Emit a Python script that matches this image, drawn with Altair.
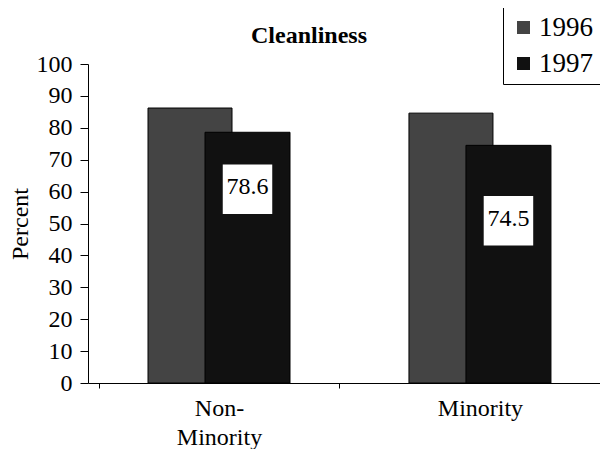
import altair as alt
import pandas as pd

groups = ["Non-Minority", "Minority"]
years = ["1996", "1997"]
values_1996 = [86.2, 84.6]
values_1997 = [78.6, 74.5]
label_pos = [60.7, 50.9]
y_ticks = [0, 10, 20, 30, 40, 50, 60, 70, 80, 90, 100]

rows = []
for g, a, b in zip(groups, values_1996, values_1997):
    rows.append({"group": g, "year": years[0], "value": a})
    rows.append({"group": g, "year": years[1], "value": b})
df = pd.DataFrame(rows)
lab = pd.DataFrame({"group": groups, "value": values_1997, "pos": label_pos})

FONT = "Liberation Serif"

x_axis = alt.Axis(
    labelAngle=0, labelFont=FONT, labelFontSize=24, labelColor="black",
    labelExpr="datum.value == 'Non-Minority' ? ['Non-', 'Minority'] : datum.value",
    labelLineHeight=29, tickBand="extent", tickSize=5, tickColor="black",
    domainColor="black", labelPadding=8, grid=False,
)
x = alt.X("group:N", sort=groups, title=None,
          scale=alt.Scale(paddingInner=0.08, paddingOuter=0.021, align=1), axis=x_axis)

y_axis = alt.Axis(
    values=y_ticks, labelFont=FONT, labelFontSize=24, labelColor="black",
    tickSize=8, tickColor="black", domainColor="black", labelPadding=8,
    titleFont=FONT, titleFontSize=24, titleFontWeight="normal", titleColor="black",
    titlePadding=4, grid=False,
)
y_scale = alt.Scale(domain=[0, 100], nice=False)

color = alt.Color(
    "year:N",
    scale=alt.Scale(domain=years, range=["#444444", "#111111"]),
    legend=alt.Legend(
        orient="none", legendX=415, legendY=-57, title=None,
        symbolType="square", symbolSize=169, symbolStrokeWidth=0,
        labelFont=FONT, labelFontSize=27, labelColor="black",
        strokeColor="black", fillColor="white", padding=7, rowPadding=8,
        labelOffset=2,
        labelExpr="datum.label + '\u00a0\u00a0'",
    ),
)

base = alt.Chart(df)
b96 = base.transform_filter("datum.year == '1996'").mark_bar(
    width=84, xOffset=-29, stroke="black", strokeWidth=1
).encode(x=x, y=alt.Y("value:Q", scale=y_scale, title="Percent", axis=y_axis), color=color)
b97 = base.transform_filter("datum.year == '1997'").mark_bar(
    width=85, xOffset=28.5, stroke="black", strokeWidth=1
).encode(x=x, y=alt.Y("value:Q", scale=y_scale, title="Percent", axis=y_axis), color=color)

box = alt.Chart(lab).mark_square(
    size=2450, color="white", opacity=1, filled=True, xOffset=28.5
).encode(x=x, y=alt.Y("pos:Q", scale=y_scale, title="Percent", axis=y_axis))
txt = alt.Chart(lab).mark_text(
    font=FONT, fontSize=24, color="black", xOffset=28.5, dy=-2
).encode(x=x, y=alt.Y("pos:Q", scale=y_scale, title="Percent", axis=y_axis),
         text=alt.Text("value:Q", format=".1f"))

chart = alt.layer(b96, b97, box, txt).properties(
    width=512, height=319,
    title=alt.TitleParams(
        "Cleanliness", font=FONT, fontSize=24, fontWeight="bold", color="black",
        anchor="middle", dx=-35, offset=-60, baseline="alphabetic", frame="group",
    ),
    autosize=alt.AutoSizeParams(type="none"),
    padding={"left": 80, "top": 56, "right": 0, "bottom": 66},
).configure_view(stroke=None)

chart.save("out.html", embed_options={"renderer": "svg", "actions": False})
